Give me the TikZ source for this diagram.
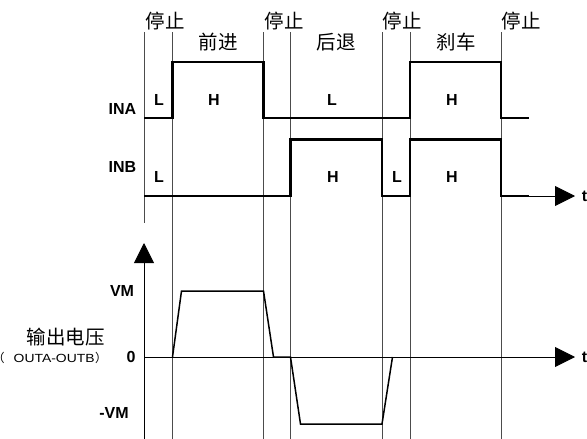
\documentclass[tikz,border=0pt]{standalone}
\usepackage{fontspec}
\usepackage{graphicx}
\newfontfamily\labf{Liberation Sans}
\newfontfamily\cjk{Noto Sans CJK SC}
\usetikzlibrary{arrows.meta}
\begin{document}
\begin{tikzpicture}[x=1pt,y=-1pt,
  grid/.style={draw=black!70,line width=0.9pt},
  wave/.style={draw=black,line width=2.2pt,line join=miter},
  outw/.style={draw=black,line width=1.5pt,line join=miter},
  axis/.style={draw=black,line width=0.9pt,-{Triangle[length=20pt,width=20pt]}},
  zh/.style={font=\cjk\fontsize{19.5}{20}\selectfont,inner sep=0pt},
  lab/.style={font=\labf\bfseries\fontsize{16}{17}\selectfont,inner sep=0pt},
  sm/.style={font=\labf\fontsize{11.8}{13}\selectfont,inner sep=0pt}]
\useasboundingbox (0,0) rectangle (587,439);
% time marks
\coordinate (t0) at (144,0);
\coordinate (t1) at (172.5,0);
\coordinate (t2) at (263.5,0);
\coordinate (t3) at (290.5,0);
\coordinate (t4) at (382,0);
\coordinate (t5) at (410,0);
\coordinate (t6) at (501,0);
% grid lines
\draw[grid] (t0|-0,32) -- (t0|-0,223);
\foreach \c in {t1,t2,t3,t4,t5,t6} \draw[grid] (\c|-0,32) -- (\c|-0,439);
% INA
\draw[wave] (t0|-0,118) -- (t1|-0,118) -- (t1|-0,62) -- (t2|-0,62) -- (t2|-0,118)
  -- (t5|-0,118) -- (t5|-0,62) -- (t6|-0,62) -- (t6|-0,118) -- (529,118);
% INB
\draw[wave] (t0|-0,196) -- (t3|-0,196) -- (t3|-0,139.5) -- (t4|-0,139.5) -- (t4|-0,196)
  -- (t5|-0,196) -- (t5|-0,139.5) -- (t6|-0,139.5) -- (t6|-0,196) -- (529,196);
\coordinate (tax1) at (575,196);
\draw[axis] (529,196) -- (tax1);
% output axes
\coordinate (yorig) at (144,439);
\coordinate (ytip) at (144,243);
\draw[axis] (yorig) -- (ytip);
\coordinate (z0) at (144,357);
\coordinate (tax2) at (575,357);
\draw[axis] (z0) -- (tax2);
% output trace
\draw[outw] (t1|-0,357) -- (181.5,291) -- (t2|-0,291) -- (273.5,357) -- (t3|-0,357)
  -- (300.5,424) -- (t4|-0,424) -- (392.5,357);
% phase labels
\node[zh] (s1) at (165,21) {停止};
\node[zh] (s2) at (284,21) {停止};
\node[zh] (s3) at (402,21) {停止};
\node[zh] (s4) at (521,21) {停止};
\node[zh] (p1) at (218,42) {前进};
\node[zh] (p2) at (336,42) {后退};
\node[zh] (p3) at (456,42) {刹车};
% INA/INB labels
\node[lab] (ina) at (122.5,109) {INA};
\node[lab] (inb) at (122.5,166.5) {INB};
\node[lab] (a1) at (159,100) {L};
\node[lab] (a2) at (214,100) {H};
\node[lab] (a3) at (332,100) {L};
\node[lab] (a4) at (452,100) {H};
\node[lab] (b1) at (159,177) {L};
\node[lab] (b2) at (333,177) {H};
\node[lab] (b3) at (397,177) {L};
\node[lab] (b4) at (452,177) {H};
\node[lab] (tl1) at (584.5,196) {t};
\node[lab] (tl2) at (584.5,357) {t};
% output labels
\node[lab] (vm) at (122,291) {VM};
\node[lab] (zero) at (131,357) {0};
\node[lab] (nvm) at (114,413) {-VM};
\node[zh] (outl) at (66,337) {输出电压};
\node[sm,anchor=west] (outs) at (-7.5,358) {{\cjk\fontsize{12}{13}\selectfont （}\hspace{9pt}\scalebox{1.18}[1]{OUTA-OUTB}\hspace{0.5pt}{\cjk\fontsize{12}{13}\selectfont ）}};
\end{tikzpicture}
\end{document}
